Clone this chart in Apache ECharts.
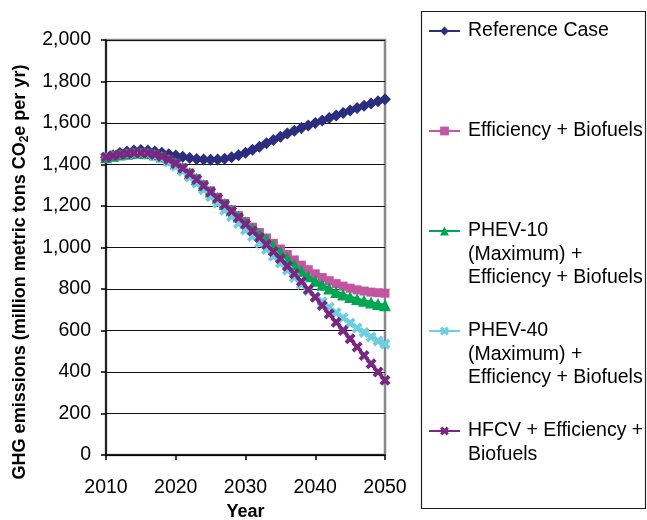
<!DOCTYPE html>
<html>
<head>
<meta charset="utf-8">
<script src="https://cdn.jsdelivr.net/npm/echarts@6/dist/echarts.min.js"></script>
<style>
html,body{margin:0;padding:0;background:#fff;}
#chart{width:647px;height:520px;}
</style>
</head>
<body>
<div id="chart"></div>
<script>
const years = [2010,2011,2012,2013,2014,2015,2016,2017,2018,2019,2020,
  2021,2022,2023,2024,2025,2026,2027,2028,2029,2030,
  2031,2032,2033,2034,2035,2036,2037,2038,2039,2040,
  2041,2042,2043,2044,2045,2046,2047,2048,2049,2050];

const referenceCase = [1435,1445,1455,1463,1468,1470,1468,1463,1457,1450,1443,
  1437,1431,1427,1424,1423,1424,1428,1435,1445,1457,
  1471,1486,1502,1518,1534,1549,1563,1576,1588,1600,
  1612,1624,1636,1648,1660,1672,1683,1694,1705,1715];

const efficiencyBiofuels = [1435,1442,1448,1452,1455,1456,1454,1448,1438,1424,1406,
  1384,1359,1332,1303,1273,1242,1212,1182,1153,1125,
  1098,1072,1046,1020,993,966,940,915,893,873,
  855,840,826,814,804,796,790,785,782,780];

const phev10 = [1435,1442,1448,1452,1455,1456,1454,1448,1438,1424,1406,
  1383,1358,1330,1300,1270,1240,1210,1180,1150,1120,
  1092,1065,1038,1010,980,950,918,888,862,840,
  820,802,786,773,762,752,743,735,728,722];

const phev40 = [1435,1442,1447,1450,1452,1452,1449,1442,1430,1413,1392,
  1368,1340,1310,1278,1245,1213,1180,1148,1116,1084,
  1053,1022,990,958,925,890,855,822,791,763,
  738,712,686,661,636,612,590,569,550,535];

const hfcv = [1435,1442,1448,1452,1455,1456,1454,1448,1438,1424,1405,
  1382,1356,1328,1298,1268,1237,1206,1175,1143,1112,
  1080,1048,1015,981,946,910,873,836,798,760,
  720,680,640,600,560,520,480,440,400,360];

const seriesNames = [
  'Reference Case',
  'Efficiency + Biofuels',
  'PHEV-10 (Maximum) + Efficiency + Biofuels',
  'PHEV-40 (Maximum) + Efficiency + Biofuels',
  'HFCV + Efficiency + Biofuels'
];
const legendLines = [
  ['Reference Case'],
  ['Efficiency + Biofuels'],
  ['PHEV-10', '(Maximum) +', 'Efficiency + Biofuels'],
  ['PHEV-40', '(Maximum) +', 'Efficiency + Biofuels'],
  ['HFCV + Efficiency +', 'Biofuels']
];
const yTicks = [0,200,400,600,800,1000,1200,1400,1600,1800,2000];
const xTicks = [2010,2020,2030,2040,2050];

const FONT = '"Liberation Sans", Arial, sans-serif';
const FS = 19.5;
const colors = ['#2B2D7E', '#C455A3', '#00A651', '#6DCEE0', '#7A2682'];
const XPATH = 'path://M0,2.5 L2.5,0 L5,2.5 L7.5,0 L10,2.5 L7.5,5 L10,7.5 L7.5,10 L5,7.5 L2.5,10 L0,7.5 L2.5,5 Z';
const symbols = ['diamond', 'rect', 'triangle', XPATH, XPATH];
const symbolSizes = [12, 9, 12, 11, 11];
const allData = [referenceCase, efficiencyBiofuels, phev10, phev40, hfcv];

const LH = 23.5;
const legendCenters = [31, 131, 231, 331, 431];

const series = allData.map((arr, i) => ({
  name: seriesNames[i],
  type: 'line',
  data: years.map((y, k) => [y, arr[k]]),
  symbol: symbols[i],
  symbolSize: symbolSizes[i],
  showAllSymbol: true,
  lineStyle: { color: colors[i], width: 3 },
  itemStyle: { color: colors[i] },
  emphasis: { disabled: true },
  animation: false
}));

const legends = seriesNames.map((n, i) => {
  const nLines = legendLines[i].length;
  const total = 2 * nLines - 1;
  const boxH = total * LH;
  const top = legendCenters[i] - boxH / 2;
  const pre = new Array(nLines - 1).fill('').join('\n');
  return {
    data: [n],
    orient: 'vertical',
    left: 428,
    top: top,
    padding: 0,
    itemWidth: 31,
    itemHeight: 11,
    itemGap: 0,
    selectedMode: false,
    formatter: () => (nLines > 1 ? pre + '\n' : '') + legendLines[i].join('\n'),
    textStyle: {
      fontFamily: FONT, fontSize: FS, color: '#000', lineHeight: LH,
      padding: [0, 0, 0, 3]
    }
  };
});

const chart = echarts.init(document.getElementById('chart'), null, { renderer: 'canvas' });
chart.setOption({
  backgroundColor: '#fff',
  animation: false,
  textStyle: { fontFamily: FONT },
  grid: {
    left: 106, right: 262, top: 40, bottom: 65,
    containLabel: false,
    outerBoundsMode: 'none',
    show: true, borderColor: '#888', borderWidth: 2.5, backgroundColor: 'transparent'
  },
  legend: legends,
  xAxis: {
    type: 'value',
    min: xTicks[0], max: xTicks[xTicks.length - 1], interval: 10,
    name: 'Year',
    nameLocation: 'middle',
    nameGap: 43,
    nameTextStyle: { fontFamily: FONT, fontSize: 18, fontWeight: 'bold', color: '#000' },
    axisLine: { lineStyle: { color: '#000', width: 1.5 } },
    axisTick: { show: true, length: 5, lineStyle: { color: '#000', width: 1.5 } },
    axisLabel: { fontFamily: FONT, fontSize: FS, color: '#000', margin: 23, formatter: v => String(v) },
    splitLine: { show: false }
  },
  yAxis: {
    type: 'value',
    min: yTicks[0], max: yTicks[yTicks.length - 1], interval: 200,
    axisLine: { show: true, lineStyle: { color: '#000', width: 1.5 } },
    axisTick: { show: true, length: 5, lineStyle: { color: '#000', width: 1.5 } },
    axisLabel: {
      fontFamily: FONT, fontSize: FS, color: '#000', margin: 15,
      formatter: v => v.toLocaleString('en-US')
    },
    splitLine: { show: true, lineStyle: { color: '#111', width: 1.2 } }
  },
  graphic: [{
    type: 'rect',
    shape: { x: 421.5, y: 11.5, width: 224, height: 497 },
    style: { fill: 'none', stroke: '#222', lineWidth: 1.2 },
    silent: true, z: -1
  }, {
    type: 'text',
    x: 20, y: 272,
    rotation: Math.PI / 2,
    silent: true,
    style: {
      text: 'GHG emissions (million metric tons CO{s|2}e per yr)',
      fontFamily: FONT, fontSize: 18, fontWeight: 'bold', fill: '#000',
      align: 'center', verticalAlign: 'middle',
      rich: { s: { fontFamily: FONT, fontSize: 12, fontWeight: 'bold', fill: '#000', verticalAlign: 'bottom', padding: [9, 0, 0, 0] } }
    }
  }],
  series: series
});
</script>
</body>
</html>
